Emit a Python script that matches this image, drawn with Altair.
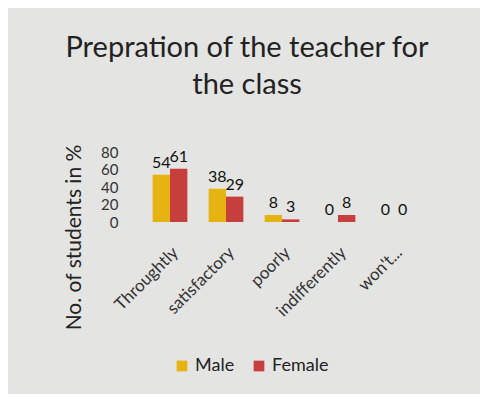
import altair as alt
import pandas as pd

categories = ["Throughtly", "satisfactory", "poorly", "indifferently", "won't..."]
male = [54, 38, 8, 0, 0]
female = [61, 29, 3, 8, 0]
series = ["Male", "Female"]
colors = ["#e6b412", "#c73f3c"]

rows = []
for c, m, f in zip(categories, male, female):
    rows.append({"cat": c, "series": "Male", "value": m})
    rows.append({"cat": c, "series": "Female", "value": f})
df = pd.DataFrame(rows)

FONT = "Lato"

x = alt.X("cat:N", sort=categories, title=None,
          scale=alt.Scale(paddingInner=0.38, paddingOuter=0.19),
          axis=alt.Axis(labelAngle=-45, labelFontSize=17, labelColor="#333333",
                        labelFont=FONT, ticks=False, domain=False, labelPadding=22))
xo = alt.XOffset("series:N", sort=series)
y = alt.Y("value:Q", scale=alt.Scale(domain=[0, 80]),
          axis=alt.Axis(values=[0, 20, 40, 60, 80], grid=False, domain=False, ticks=False,
                        labelFontSize=15, labelColor="#333333", labelFont=FONT,
                        labelOverlap=False, labelPadding=24,
                        title="No. of students in %",
                        titleFontSize=21, titleFont=FONT, titleColor="#222222",
                        titleFontWeight="normal", titleX=-58, titleY=85))

base = alt.Chart(df)

bars = base.mark_bar().encode(
    x=x, xOffset=xo, y=y,
    color=alt.Color("series:N", sort=series,
                    scale=alt.Scale(domain=series, range=colors),
                    legend=alt.Legend(title=None, orient="none", direction="horizontal",
                                      legendX=31, legendY=205, symbolType="square",
                                      symbolSize=115, symbolStrokeWidth=0, labelOffset=4,
                                      labelFontSize=18, labelFont=FONT,
                                      labelColor="#222222", columnPadding=15)),
)

labels = base.mark_text(dy=-12, fontSize=16, font=FONT, color="#111111").encode(
    x=x, xOffset=xo, y=y,
    text=alt.Text("value:Q"),
)

chart = (bars + labels).properties(
    width=280, height=70,
    background="#e4e4e2",
    padding={"left": 134, "top": 144, "right": 58, "bottom": 172},
    autosize=alt.AutoSizeParams(type="none"),
    title=alt.TitleParams(["Prepration of the teacher for", "the class"],
                          anchor="middle", dx=-35, offset=44, fontSize=29,
                          font=FONT, fontWeight="normal", color="#222222",
                          lineHeight=37),
).configure_view(stroke=None).configure_axisY(labelOverlap=False)

chart.save("out.html", embed_options={"renderer": "svg", "actions": False})
